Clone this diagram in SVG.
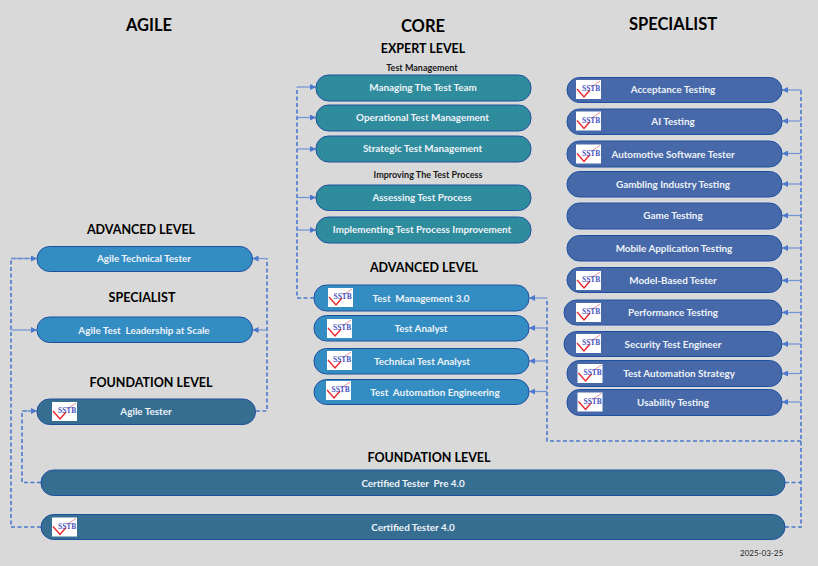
<svg xmlns="http://www.w3.org/2000/svg" width="818" height="566" viewBox="0 0 818 566">
<style>
text{font-family:Lato,Carlito,"Liberation Sans",sans-serif}
.h1{font-size:16.5px;font-weight:700;fill:#000;text-anchor:middle}
.h2{font-size:12.5px;font-weight:700;fill:#000;text-anchor:middle}
.h3{font-size:9px;font-weight:700;fill:#1a1a1a;text-anchor:middle}
.n{font-size:9.9px;font-weight:700;fill:#eef3f8;text-anchor:middle}
.d{font-size:8px;fill:#222}
.p{stroke:#1f50a0;stroke-width:1}
.teal{fill:#2e8c9d}.blue{fill:#338dc3}.dark{fill:#366e92}.spec{fill:#4769a9}
.c{fill:none;stroke:#4a78cc;stroke-width:1.6;stroke-dasharray:4 2.5}
.a{fill:none;stroke:#6f93d6;stroke-width:1.2}
.t{font-family:"Liberation Serif",serif;font-size:7.5px;font-weight:700;fill:#4a55c4}
</style>
<defs>
<marker id="ah" markerWidth="7" markerHeight="6" refX="6" refY="3" orient="auto" markerUnits="userSpaceOnUse"><path d="M0 0L6 3L0 6z" fill="#4a78cc"/></marker>
<g id="logo"><rect width="25" height="19" fill="#fff"/><path d="M1 9L8 17L14 10" fill="none" stroke="#e8262c" stroke-width="1.4"/><path d="M15 7L24 1" fill="none" stroke="#e8929a" stroke-width="1"/></g>
</defs>
<rect width="818" height="566" fill="#d9d9d9"/>
<g id="connectors">
<path class="c" d="M41 527H11V258.5H30"/>
<path class="c" d="M41 482.5H22V411H30"/>
<path class="a" d="M11 258.5H37" marker-end="url(#ah)"/>
<path class="a" d="M11 330H37" marker-end="url(#ah)"/>
<path class="a" d="M22 411H37" marker-end="url(#ah)"/>
<path class="c" d="M256 411H267V258.5"/>
<path class="a" d="M267 258.5H252.500" marker-end="url(#ah)"/>
<path class="a" d="M267 330H252.500" marker-end="url(#ah)"/>
<path class="c" d="M314 298H297V87"/>
<path class="a" d="M297 87H316" marker-end="url(#ah)"/>
<path class="a" d="M297 117.500H316" marker-end="url(#ah)"/>
<path class="a" d="M297 149H316" marker-end="url(#ah)"/>
<path class="a" d="M297 197.500H316" marker-end="url(#ah)"/>
<path class="a" d="M297 230H316" marker-end="url(#ah)"/>
<path class="c" d="M801 441H547V298"/>
<path class="a" d="M547 298H529" marker-end="url(#ah)"/>
<path class="a" d="M547 328H529" marker-end="url(#ah)"/>
<path class="a" d="M547 361H529" marker-end="url(#ah)"/>
<path class="a" d="M547 391.500H529" marker-end="url(#ah)"/>
<path class="c" d="M785 527H801V90M785 482.500H801"/>
<path class="a" d="M801 90H782" marker-end="url(#ah)"/>
<path class="a" d="M801 121H782" marker-end="url(#ah)"/>
<path class="a" d="M801 153.500H782" marker-end="url(#ah)"/>
<path class="a" d="M801 184H782" marker-end="url(#ah)"/>
<path class="a" d="M801 215.500H782" marker-end="url(#ah)"/>
<path class="a" d="M801 248H782" marker-end="url(#ah)"/>
<path class="a" d="M801 280.500H782" marker-end="url(#ah)"/>
<path class="a" d="M801 312.500H782" marker-end="url(#ah)"/>
<path class="a" d="M801 344H782" marker-end="url(#ah)"/>
<path class="a" d="M801 373.500H782" marker-end="url(#ah)"/>
<path class="a" d="M801 402H782" marker-end="url(#ah)"/>
</g>
<g id="headings">
<text class="h1" x="149" y="31">AGILE</text>
<text class="h1" x="423" y="32">CORE</text>
<text class="h1" x="673" y="30">SPECIALIST</text>
<text class="h2" x="423" y="53">EXPERT LEVEL</text>
<text class="h3" x="422" y="71">Test Management</text>
<text class="h3" x="428" y="178">Improving The Test Process</text>
<text class="h2" x="141" y="234">ADVANCED LEVEL</text>
<text class="h2" x="142" y="302">SPECIALIST</text>
<text class="h2" x="151" y="387">FOUNDATION LEVEL</text>
<text class="h2" x="424" y="272">ADVANCED LEVEL</text>
<text class="h2" x="429" y="462">FOUNDATION LEVEL</text>
<text class="d" x="740" y="556">2025-03-25</text>
</g>
<g id="managing-the-test-team"><rect class="p teal" x="316" y="75" width="215" height="26" rx="12.500"/><text class="n" x="423" y="90.500">Managing The Test Team</text></g>
<g id="operational-test-management"><rect class="p teal" x="316" y="105" width="215" height="26" rx="12.500"/><text class="n" x="422.500" y="120.500">Operational Test Management</text></g>
<g id="strategic-test-management"><rect class="p teal" x="316" y="136" width="215" height="26" rx="12.500"/><text class="n" x="422.500" y="152">Strategic Test Management</text></g>
<g id="assessing-test-process"><rect class="p teal" x="316" y="185" width="215" height="25.500" rx="12.500"/><text class="n" x="422" y="200.500">Assessing Test Process</text></g>
<g id="implementing-test-process-improvement"><rect class="p teal" x="316" y="217" width="215" height="26" rx="12.500"/><text class="n" x="422" y="232.500">Implementing Test Process Improvement</text></g>
<g id="test-management-3"><rect class="p blue" x="314" y="285" width="215" height="26" rx="12.500"/><use href="#logo" x="328" y="288"/><text class="t" x="333.500" y="299">SSTB</text><text class="n" x="421" y="301.500" xml:space="preserve">Test  Management 3.0</text></g>
<g id="test-analyst"><rect class="p blue" x="314" y="315.500" width="215" height="25.500" rx="12.500"/><use href="#logo" x="327" y="319"/><text class="t" x="333" y="330">SSTB</text><text class="n" x="421" y="331.500">Test Analyst</text></g>
<g id="technical-test-analyst"><rect class="p blue" x="314" y="348.500" width="215" height="25.500" rx="12.500"/><use href="#logo" x="327" y="351"/><text class="t" x="333" y="362">SSTB</text><text class="n" x="422" y="364.500">Technical Test Analyst</text></g>
<g id="test-automation-engineering"><rect class="p blue" x="314" y="379.500" width="215" height="25" rx="12.500"/><use href="#logo" x="326" y="381"/><text class="t" x="331.500" y="392">SSTB</text><text class="n" x="435" y="395.500" xml:space="preserve">Test  Automation Engineering</text></g>
<g id="agile-technical-tester"><rect class="p blue" x="37" y="246.500" width="215.500" height="25" rx="12.500"/><text class="n" x="144" y="262">Agile Technical Tester</text></g>
<g id="agile-test-leadership"><rect class="p blue" x="37" y="317" width="215.500" height="25.500" rx="12.500"/><text class="n" x="144" y="333.500" xml:space="preserve">Agile Test  Leadership at Scale</text></g>
<g id="agile-tester"><rect class="p dark" x="37" y="399" width="218.500" height="25.500" rx="12.500"/><use href="#logo" x="52" y="402"/><text class="t" x="58" y="413">SSTB</text><text class="n" x="146" y="414.500">Agile Tester</text></g>
<g id="acceptance-testing"><rect class="p spec" x="567" y="77.500" width="215" height="25" rx="12.500"/><use href="#logo" x="576" y="80"/><text class="t" x="582" y="91">SSTB</text><text class="n" x="673" y="93">Acceptance Testing</text></g>
<g id="ai-testing"><rect class="p spec" x="567" y="109" width="215" height="25.500" rx="12.500"/><use href="#logo" x="576" y="111.500"/><text class="t" x="582" y="122.500">SSTB</text><text class="n" x="673" y="124.500">AI Testing</text></g>
<g id="automotive-software-tester"><rect class="p spec" x="567" y="141" width="215" height="26" rx="12.500"/><use href="#logo" x="576" y="144.500"/><text class="t" x="582" y="155.500">SSTB</text><text class="n" x="673" y="157.500">Automotive Software Tester</text></g>
<g id="gambling-industry-testing"><rect class="p spec" x="567" y="171.500" width="215" height="25.500" rx="12.500"/><text class="n" x="673" y="187.500">Gambling Industry Testing</text></g>
<g id="game-testing"><rect class="p spec" x="567" y="203" width="215" height="26" rx="12.500"/><text class="n" x="673" y="219">Game Testing</text></g>
<g id="mobile-application-testing"><rect class="p spec" x="567" y="235.500" width="215" height="25.500" rx="12.500"/><text class="n" x="674" y="251.500">Mobile Application Testing</text></g>
<g id="model-based-tester"><rect class="p spec" x="567" y="267.500" width="215" height="25" rx="12.500"/><use href="#logo" x="576" y="271"/><text class="t" x="582" y="282">SSTB</text><text class="n" x="673" y="283.500">Model-Based Tester</text></g>
<g id="performance-testing"><rect class="p spec" x="564" y="300" width="218" height="25" rx="12.500"/><use href="#logo" x="576" y="303"/><text class="t" x="582" y="314">SSTB</text><text class="n" x="673" y="315.500">Performance Testing</text></g>
<g id="security-test-engineer"><rect class="p spec" x="564" y="331.500" width="218" height="25" rx="12.500"/><use href="#logo" x="576" y="334"/><text class="t" x="582" y="345">SSTB</text><text class="n" x="673" y="347.500">Security Test Engineer</text></g>
<g id="test-automation-strategy"><rect class="p spec" x="567" y="360.500" width="215" height="26" rx="12.500"/><use href="#logo" x="577.500" y="364"/><text class="t" x="583.500" y="375">SSTB</text><text class="n" x="679" y="377">Test Automation Strategy</text></g>
<g id="usability-testing"><rect class="p spec" x="567" y="389.500" width="215" height="26" rx="12.500"/><use href="#logo" x="577.500" y="392.500"/><text class="t" x="583.500" y="403.500">SSTB</text><text class="n" x="673" y="405.500">Usability Testing</text></g>
<g id="certified-tester-pre-4"><rect class="p dark" x="41" y="470" width="744" height="25.500" rx="12.500"/><text class="n" x="413" y="486.500" xml:space="preserve">Certified Tester  Pre 4.0</text></g>
<g id="certified-tester-4"><rect class="p dark" x="41" y="514.500" width="744" height="25" rx="12.500"/><use href="#logo" x="52" y="517.500"/><text class="t" x="58" y="528.500">SSTB</text><text class="n" x="413" y="530.500">Certified Tester 4.0</text></g>
</svg>
